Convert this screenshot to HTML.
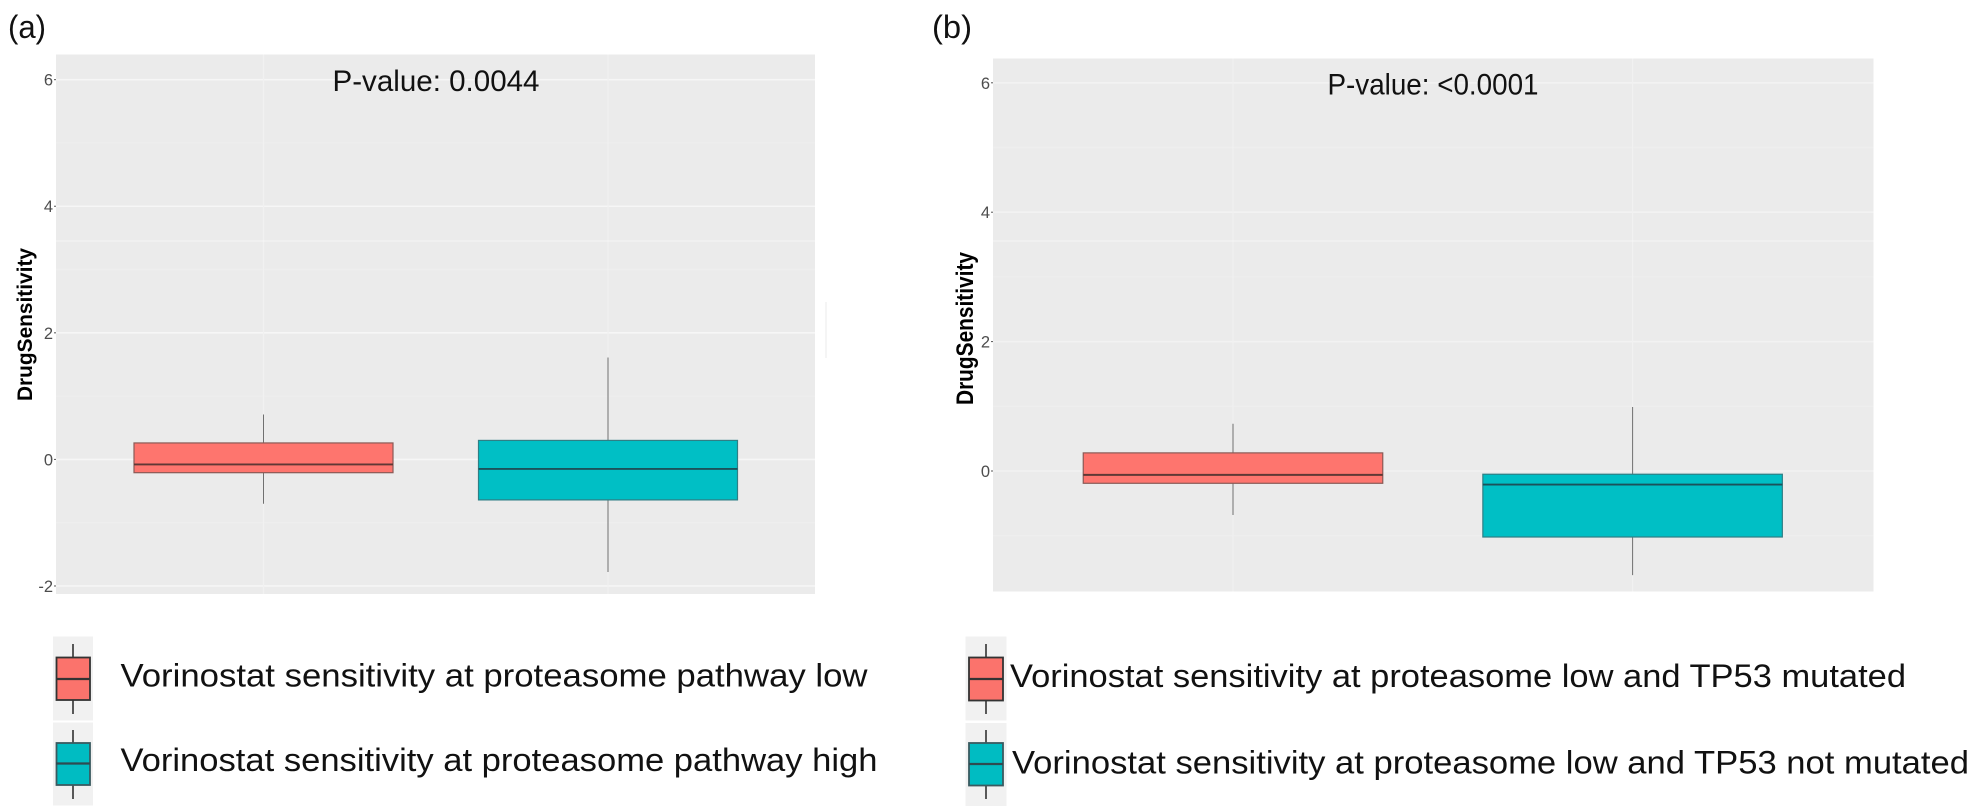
<!DOCTYPE html>
<html lang="en">
<head>
<meta charset="utf-8">
<title>Vorinostat drug sensitivity boxplots</title>
<style>
html,body{margin:0;padding:0;background:#fff;width:1980px;height:812px;overflow:hidden}
svg{display:block}
text{font-family:"Liberation Sans",sans-serif}
</style>
</head>
<body>
<svg id="figure" xmlns="http://www.w3.org/2000/svg" width="1980" height="812" viewBox="0 0 1980 812">
  <rect x="0" y="0" width="1980" height="812" fill="#ffffff"/>

  <text x="8" y="38" font-size="32" fill="#111" textLength="38" lengthAdjust="spacingAndGlyphs">(a)</text>
  <text x="932" y="38" font-size="32" fill="#111" textLength="40" lengthAdjust="spacingAndGlyphs">(b)</text>

  <g id="panel-a">
    <rect x="56" y="54.5" width="759" height="539.5" fill="#ebebeb"/>
    <g id="grid-a"></g>
    <rect x="56" y="240.5" width="759" height="1" fill="#f6f6f6"/>
    <g id="ticks-a"></g>
    <g id="boxes-a"></g>
    <text transform="translate(32 401) rotate(-90)" font-size="21" font-weight="700" fill="#000" textLength="153" lengthAdjust="spacingAndGlyphs">DrugSensitivity</text>
    <text x="332.5" y="91" font-size="30" fill="#111" textLength="207" lengthAdjust="spacingAndGlyphs">P-value: 0.0044</text>
  </g>

  <g id="panel-b">
    <rect x="993" y="58.5" width="880.5" height="533" fill="#ebebeb"/>
    <g id="grid-b"></g>
    <rect x="993" y="240.5" width="880.5" height="1" fill="#f6f6f6"/>
    <g id="ticks-b"></g>
    <g id="boxes-b"></g>
    <text transform="translate(973 405) rotate(-90)" font-size="24" font-weight="700" fill="#000" textLength="153" lengthAdjust="spacingAndGlyphs">DrugSensitivity</text>
    <text x="1327.5" y="94.5" font-size="30" fill="#111" textLength="211" lengthAdjust="spacingAndGlyphs">P-value: &lt;0.0001</text>
  </g>

  <rect x="825" y="302" width="2" height="56" fill="#f5f5f5"/>

  <g>
    <g>
      <rect x="53" y="636.5" width="40" height="84" fill="#f1f1f1"/>
      <line x1="73" x2="73" y1="644" y2="714" stroke="#333" stroke-width="1.6"/>
      <rect x="56.5" y="657.5" width="33.5" height="42.5" fill="#fb736c" stroke="#333" stroke-width="1.8"/>
      <line x1="56" x2="90" y1="679" y2="679" stroke="#333" stroke-width="2.2"/>
      <text x="120.5" y="686.5" font-size="32" fill="#111" textLength="747" lengthAdjust="spacingAndGlyphs">Vorinostat sensitivity at proteasome pathway low</text>
    </g>
    <g>
      <rect x="53" y="722.5" width="40" height="83" fill="#f1f1f1"/>
      <line x1="73" x2="73" y1="730" y2="799" stroke="#333" stroke-width="1.6"/>
      <rect x="56.5" y="743" width="33.5" height="42" fill="#00bcc2" stroke="#3a5a60" stroke-width="1.8"/>
      <line x1="56" x2="90" y1="763.5" y2="763.5" stroke="#2f4a50" stroke-width="2.2"/>
      <text x="120.5" y="771" font-size="32" fill="#111" textLength="757" lengthAdjust="spacingAndGlyphs">Vorinostat sensitivity at proteasome pathway high</text>
    </g>
  </g>

  <g>
    <g>
      <rect x="965.5" y="636.5" width="41" height="84" fill="#f1f1f1"/>
      <line x1="986" x2="986" y1="644" y2="714" stroke="#333" stroke-width="1.6"/>
      <rect x="969" y="657.5" width="34" height="43" fill="#fb736c" stroke="#333" stroke-width="1.8"/>
      <line x1="969" x2="1003" y1="679" y2="679" stroke="#333" stroke-width="2.2"/>
      <text x="1010" y="687" font-size="32" fill="#111" textLength="896" lengthAdjust="spacingAndGlyphs">Vorinostat sensitivity at proteasome low and TP53 mutated</text>
    </g>
    <g>
      <rect x="965.5" y="723" width="41" height="83" fill="#f1f1f1"/>
      <line x1="986" x2="986" y1="730" y2="799" stroke="#333" stroke-width="1.6"/>
      <rect x="969" y="743" width="34" height="42.5" fill="#00bcc2" stroke="#3a5a60" stroke-width="1.8"/>
      <line x1="969" x2="1003" y1="764" y2="764" stroke="#2f4a50" stroke-width="2.2"/>
      <text x="1012" y="773.5" font-size="32" fill="#111" textLength="957" lengthAdjust="spacingAndGlyphs">Vorinostat sensitivity at proteasome low and TP53 not mutated</text>
    </g>
  </g>
</svg>

<script>
// Panel (a) data
const categoriesA = ['pathway-low', 'pathway-high'];
const whiskerHighA = [0.71, 1.61];
const upperQuartileA = [0.26, 0.30];
const medianA = [-0.08, -0.15];
const lowerQuartileA = [-0.21, -0.64];
const whiskerLowA = [-0.70, -1.78];
const tickLabelsA = [6, 4, 2, 0, -2];
const minorTicksA = [5, 3, 1, -1];

// Panel (b) data
const categoriesB = ['tp53-mutated', 'tp53-not-mutated'];
const whiskerHighB = [0.73, 0.99];
const upperQuartileB = [0.28, -0.05];
const medianB = [-0.06, -0.21];
const lowerQuartileB = [-0.19, -1.02];
const whiskerLowB = [-0.68, -1.61];
const tickLabelsB = [6, 4, 2, 0];
const minorTicksB = [5, 3, 1, -1];

const fillColors = ['#fe756e', '#00bfc5'];
const borderColors = ['#8a5a56', '#2f7f85'];
const medianColors = ['#5f3835', '#1c525a'];

const SVG_NS = 'http://www.w3.org/2000/svg';

function make(tag, attrs, parent) {
  const el = document.createElementNS(SVG_NS, tag);
  Object.keys(attrs).forEach(function (k) { el.setAttribute(k, attrs[k]); });
  parent.appendChild(el);
  return el;
}

function yAxisA(v) { return 459.4 - v * 63.29; }
function yAxisB(v) { return 471 - v * 64.7; }
function xAxisA(i) { return 263.5 + i * 344.5; }
function xAxisB(i) { return 1233 + i * 399.6; }

function drawPanel(cfg) {
  const grid = document.getElementById(cfg.gridId);
  const ticks = document.getElementById(cfg.ticksId);
  const boxes = document.getElementById(cfg.boxesId);

  cfg.minor.forEach(function (v) {
    const y = cfg.yAxis(v);
    if (y < cfg.top || y > cfg.bottom) return;
    const el = make('line', { x1: cfg.left, x2: cfg.right, y1: y, y2: y, stroke: '#eeeeee', 'stroke-width': 1.2 }, grid);
    
    
  });

  cfg.tickLabels.forEach(function (v) {
    const y = cfg.yAxis(v);
    const gridline = make('line', { x1: cfg.left, x2: cfg.right, y1: y, y2: y, stroke: cfg.majorColor, 'stroke-width': 1.6 }, grid);
    
    

    const tickMark = make('line', { x1: cfg.left - 2, x2: cfg.left, y1: y, y2: y, stroke: '#555', 'stroke-width': 1 }, ticks);
    
    

    const label = make('text', { x: cfg.left - 3, y: y + 6, 'text-anchor': 'end', 'font-size': 16.5, fill: '#4d4d4d' }, ticks);
    
    
    label.textContent = String(v);
  });

  cfg.categories.forEach(function (c, i) {
    const x = cfg.xAxis(i);
    const vgrid = make('line', { x1: x, x2: x, y1: cfg.top, y2: cfg.bottom, stroke: '#f1f1f1', 'stroke-width': 1.2 }, grid);
    
    

    const whisker = make('line', { x1: x, x2: x, y1: cfg.yAxis(cfg.high[i]), y2: cfg.yAxis(cfg.low[i]), stroke: '#707070', 'stroke-width': 1 }, boxes);
    
    

    const yTop = cfg.yAxis(cfg.q3[i]);
    const yBottom = cfg.yAxis(cfg.q1[i]);
    const box = make('rect', { x: x - cfg.boxWidth / 2, y: yTop, width: cfg.boxWidth, height: yBottom - yTop, fill: fillColors[i], stroke: borderColors[i], 'stroke-width': 1.2 }, boxes);
    
    

    const yMed = cfg.yAxis(cfg.med[i]);
    const median = make('line', { x1: x - cfg.boxWidth / 2, x2: x + cfg.boxWidth / 2, y1: yMed, y2: yMed, stroke: medianColors[i], 'stroke-width': 1.9 }, boxes);
    
    
  });
}

drawPanel({
  gridId: 'grid-a', ticksId: 'ticks-a', boxesId: 'boxes-a',
  left: 56, right: 815, top: 54.5, bottom: 594, majorColor: '#f6f6f6',
  yAxis: yAxisA, xAxis: xAxisA, boxWidth: 259,
  categories: categoriesA, high: whiskerHighA, q3: upperQuartileA, med: medianA, q1: lowerQuartileA, low: whiskerLowA,
  tickLabels: tickLabelsA, minor: minorTicksA
});

drawPanel({
  gridId: 'grid-b', ticksId: 'ticks-b', boxesId: 'boxes-b',
  left: 993, right: 1873.5, top: 58.5, bottom: 591.5, majorColor: '#f2f2f2',
  yAxis: yAxisB, xAxis: xAxisB, boxWidth: 299.5,
  categories: categoriesB, high: whiskerHighB, q3: upperQuartileB, med: medianB, q1: lowerQuartileB, low: whiskerLowB,
  tickLabels: tickLabelsB, minor: minorTicksB
});
</script>
</body>
</html>
